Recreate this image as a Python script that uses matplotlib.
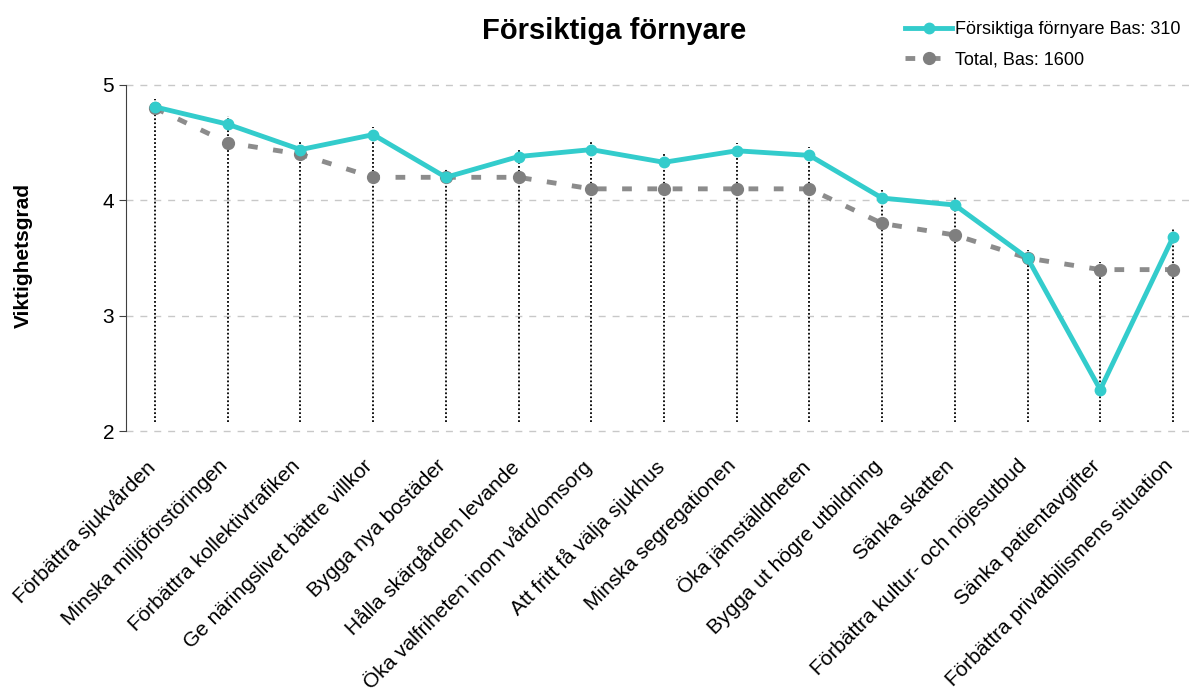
import numpy as np
import matplotlib.pyplot as plt
from matplotlib.transforms import ScaledTranslation

plt.rcParams['font.family'] = ['Liberation Sans', 'DejaVu Sans']

categories = ["Förbättra sjukvården", "Minska miljöförstöringen", "Förbättra kollektivtrafiken",
              "Ge näringslivet bättre villkor", "Bygga nya bostäder", "Hålla skärgården levande",
              "Öka valfriheten inom vård/omsorg", "Att fritt få välja sjukhus", "Minska segregationen",
              "Öka jämställdheten", "Bygga ut högre utbildning", "Sänka skatten",
              "Förbättra kultur- och nöjesutbud", "Sänka patientavgifter",
              "Förbättra privatbilismens situation"]
forsiktiga = [4.81, 4.66, 4.44, 4.57, 4.20, 4.38, 4.44, 4.33, 4.43, 4.39, 4.02, 3.96, 3.50, 2.36, 3.68]
total = [4.8, 4.5, 4.4, 4.2, 4.2, 4.2, 4.1, 4.1, 4.1, 4.1, 3.8, 3.7, 3.5, 3.4, 3.4]

teal = '#33CCCC'
grey = '#8C8C8C'

fig = plt.figure(figsize=(11.93, 6.91), dpi=100)
ax = fig.add_axes([0.1056, 0.376, 0.891, 0.501])

x = np.arange(len(categories))

# drop lines
top = np.maximum(forsiktiga, total) + 0.07
ax.vlines(x, 2.08, top, colors='black', linestyles=(0, (1, 1.2)), linewidth=1.3, zorder=1)

ax.plot(x, total, color=grey, linestyle=(0, (2, 3.2)), linewidth=3.5, marker='o', markersize=8.5,
        markerfacecolor='#7F7F7F', markeredgecolor='#7F7F7F', label='Total, Bas: 1600', zorder=2)
ax.plot(x, forsiktiga, color=teal, linewidth=3.5, marker='o', markersize=7.5,
        label='Försiktiga förnyare Bas: 310', zorder=3)

ax.set_ylim(2, 5)
ax.set_xlim(-0.4, 14.22)
ax.set_yticks([2, 3, 4, 5])
ax.yaxis.grid(True, linestyle=(0, (5, 5)), color='#C8C8C8', linewidth=1)
for gl in ax.get_ygridlines():
    gl.set_clip_on(False)
ax.set_axisbelow(True)
for s in ['top', 'right', 'bottom']:
    ax.spines[s].set_visible(False)
ax.spines['left'].set_color('#404040')
ax.tick_params(axis='y', labelsize=15, length=5, color='#404040')
ax.tick_params(axis='x', length=0, pad=18)
ax.set_xticks(x)
ax.set_xticklabels(categories, rotation=45, ha='right', rotation_mode='anchor', fontsize=15)
shift = ScaledTranslation(-0.1, 0, fig.dpi_scale_trans)
for lab in ax.get_xticklabels():
    lab.set_transform(lab.get_transform() + shift)

fig.text(0.012, 0.63, 'Viktighetsgrad', rotation=90, fontsize=15, fontweight='bold',
         va='center', ha='left')
fig.text(0.515, 0.955, 'Försiktiga förnyare', fontsize=21, fontweight='bold', ha='center', va='center')

h, l = ax.get_legend_handles_labels()
fig.legend(h[::-1], l[::-1], loc='upper left', bbox_to_anchor=(0.745, 0.993), frameon=False,
           fontsize=13, handlelength=2.6, handletextpad=0.15, labelspacing=0.75)

fig.savefig('out.png', dpi=100)
